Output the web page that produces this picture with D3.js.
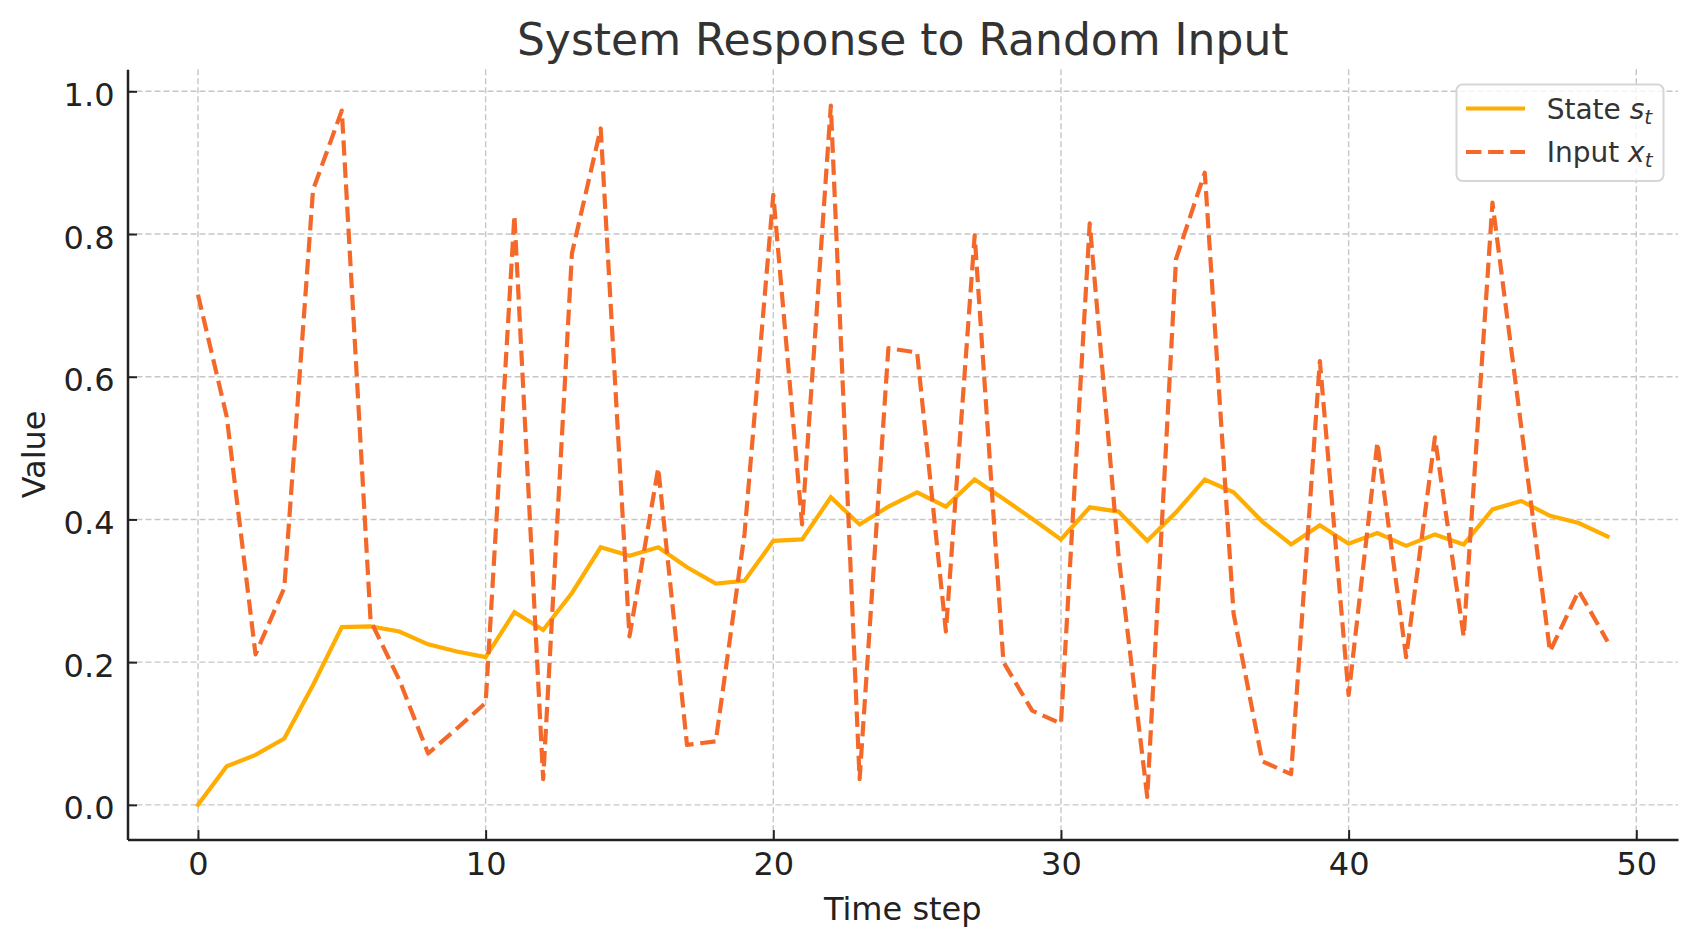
<!DOCTYPE html>
<html>
<head>
<meta charset="utf-8">
<script src="https://cdn.jsdelivr.net/npm/d3@7"></script>
<style>
  html, body { margin: 0; padding: 0; background: #ffffff; }
  svg { display: block; font-family: "DejaVu Sans", sans-serif; }
</style>
</head>
<body>
<svg id="chart" width="1697" height="947"></svg>
<script>
// ---- data ----
const timeSteps = d3.range(0, 50);
const inputValues = [0.715, 0.544, 0.211, 0.304, 0.862, 0.973, 0.258, 0.175, 0.072, 0.107,
  0.143, 0.826, 0.036, 0.773, 0.948, 0.236, 0.472, 0.084, 0.089, 0.38,
  0.855, 0.393, 0.980, 0.036, 0.640, 0.634, 0.243, 0.798, 0.200, 0.132,
  0.114, 0.815, 0.35, 0.011, 0.765, 0.886, 0.268, 0.061, 0.043, 0.622,
  0.154, 0.508, 0.207, 0.515, 0.236, 0.844, 0.53, 0.215, 0.300, 0.229];
const stateValues = [0, 0.054, 0.070, 0.093, 0.168, 0.249, 0.250, 0.243, 0.225, 0.215,
  0.207, 0.270, 0.245, 0.297, 0.361, 0.349, 0.361, 0.333, 0.310, 0.314,
  0.370, 0.372, 0.431, 0.393, 0.418, 0.438, 0.418, 0.456, 0.429, 0.401,
  0.372, 0.417, 0.411, 0.370, 0.410, 0.456, 0.438, 0.397, 0.365, 0.392,
  0.366, 0.381, 0.363, 0.379, 0.365, 0.414, 0.426, 0.405, 0.395, 0.376];
const xTicks = [0, 10, 20, 30, 40, 50];
const yTicks = [0.0, 0.2, 0.4, 0.6, 0.8, 1.0];
const yTickLabels = ["0.0", "0.2", "0.4", "0.6", "0.8", "1.0"];
const titleText = "System Response to Random Input";
const xLabelText = "Time step";
const yLabelText = "Value";

// ---- layout ----
const svg = d3.select("#chart");
const plotLeft = 127.5, plotRight = 1678, plotTop = 69.2, plotBottom = 839.6;
const stateColor = "#ffad00", inputColor = "#f4692a";
const textColor = "#333333", axisColor = "#222222";

const x = d3.scaleLinear().domain([-2.45, 51.45]).range([plotLeft, plotRight]);
const y = d3.scaleLinear().domain([-0.0487, 1.031]).range([plotBottom, plotTop]);

// grid
const grid = svg.append("g");
grid.selectAll("line.gx").data(xTicks).join("line").attr("class", "gx")
  .attr("x1", d => x(d)).attr("x2", d => x(d))
  .attr("y1", plotTop).attr("y2", plotBottom)
  .attr("stroke", "#c6c6c6").attr("stroke-width", 1.4).attr("stroke-dasharray", "6,3");
grid.selectAll("line.gy").data(yTicks).join("line").attr("class", "gy")
  .attr("x1", plotLeft).attr("x2", plotRight)
  .attr("y1", d => y(d)).attr("y2", d => y(d))
  .attr("stroke", "#c6c6c6").attr("stroke-width", 1.4).attr("stroke-dasharray", "6,3");

// lines
const lineGen = d3.line().x((d, i) => x(timeSteps[i])).y(d => y(d));
svg.append("path").datum(stateValues)
  .attr("d", lineGen).attr("fill", "none")
  .attr("stroke", stateColor).attr("stroke-width", 4.2)
  .attr("stroke-linejoin", "miter").attr("stroke-linecap", "square");
svg.append("path").datum(inputValues)
  .attr("d", lineGen).attr("fill", "none")
  .attr("stroke", inputColor).attr("stroke-width", 4.2)
  .attr("stroke-dasharray", "15.4,6.7").attr("stroke-linejoin", "round");

// axes
const xAxis = d3.axisBottom(x).tickValues(xTicks).tickFormat(d3.format("d"))
  .tickSizeInner(-9.5).tickSizeOuter(0).tickPadding(13);
const yAxis = d3.axisLeft(y).tickValues(yTicks).tickFormat((d, i) => yTickLabels[i])
  .tickSizeInner(-9.5).tickSizeOuter(0).tickPadding(13);

const gx = svg.append("g").attr("transform", `translate(0,${plotBottom})`).call(xAxis);
const gy = svg.append("g").attr("transform", `translate(${plotLeft},0)`).call(yAxis);
[gx, gy].forEach(g => {
  g.select(".domain").attr("stroke", axisColor).attr("stroke-width", 2.5);
  g.selectAll(".tick line").attr("stroke", axisColor).attr("stroke-width", 2);
  g.selectAll(".tick text").attr("fill", "#222222")
    .style("font-family", "DejaVu Sans").style("font-size", "32px");
});
gy.selectAll(".tick text").attr("dy", "0.44em");

// labels
svg.append("text").attr("x", (plotLeft + plotRight) / 2).attr("y", 55)
  .attr("text-anchor", "middle").attr("fill", textColor)
  .style("font-size", "44px").text(titleText);
svg.append("text").attr("x", (plotLeft + plotRight) / 2).attr("y", 920)
  .attr("text-anchor", "middle").attr("fill", "#222222")
  .style("font-size", "32px").text(xLabelText);
svg.append("text").attr("transform", `translate(45,${(plotTop + plotBottom) / 2}) rotate(-90)`)
  .attr("text-anchor", "middle").attr("fill", "#222222")
  .style("font-size", "32px").text(yLabelText);

// legend
const lg = svg.append("g");
lg.append("rect").attr("x", 1456.5).attr("y", 84.5).attr("width", 207).attr("height", 96.5)
  .attr("rx", 6).attr("fill", "#ffffff").attr("fill-opacity", 0.8)
  .attr("stroke", "#d6d6d6").attr("stroke-width", 2);
const legendItems = [
  { name: "State ", sym: "s", color: stateColor, dash: null, y: 108.5 },
  { name: "Input ", sym: "x", color: inputColor, dash: "15.4,6.7", y: 152 }
];
legendItems.forEach(it => {
  lg.append("line").attr("x1", 1466).attr("x2", 1525).attr("y1", it.y).attr("y2", it.y)
    .attr("stroke", it.color).attr("stroke-width", 4.2)
    .attr("stroke-dasharray", it.dash);
  const t = lg.append("text").attr("x", 1546.7).attr("y", it.y + 10)
    .attr("fill", textColor).style("font-size", "28px");
  t.append("tspan").text(it.name);
  t.append("tspan").style("font-style", "italic").text(it.sym);
  t.append("tspan").style("font-style", "italic").style("font-size", "20px")
    .attr("dy", 5).text("t");
});
</script>
</body>
</html>
